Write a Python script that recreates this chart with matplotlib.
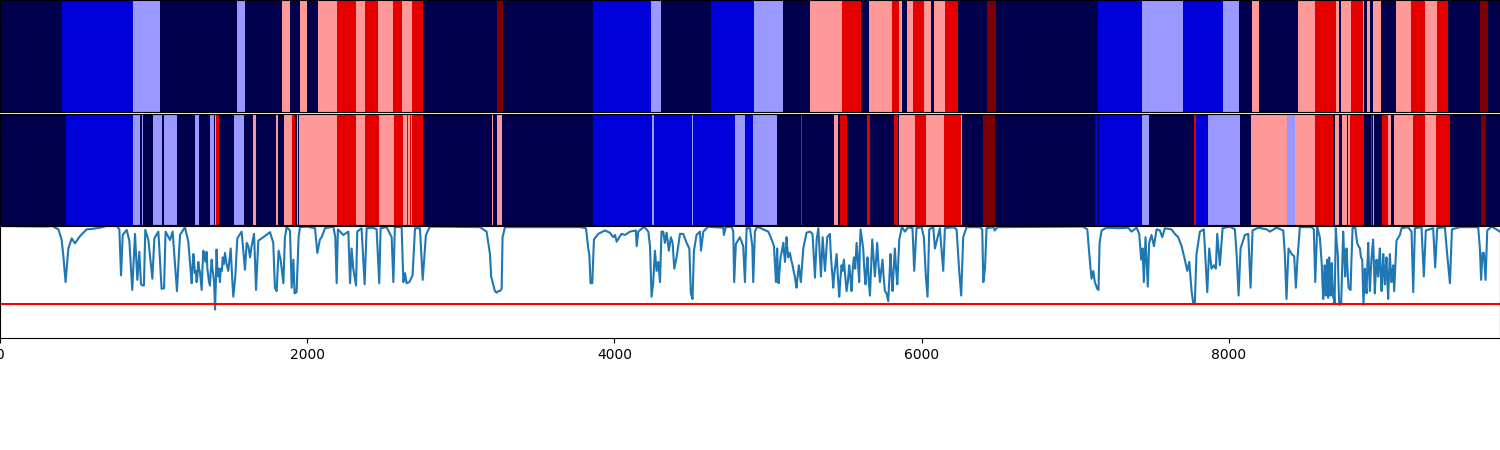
import numpy as np
import matplotlib
matplotlib.use("Agg")
import matplotlib.pyplot as plt

top_ends = [404,866,1042,1543,1595,1836,1888,1953,1999,2070,2194,2318,2376,2461,2559,2617,2682,2754,3235,3275,
            3861,4238,4303,4629,4909,5097,5273,5482,5605,5657,5807,5853,5872,5905,5944,6015,6061,6080,6152,6237,
            6425,6484,7148,7434,7701,7962,8066,8150,8196,8450,8561,8697,8717,8730,8795,8873,8880,8899,8919,8938,
            8990,9088,9186,9277,9355,9426,9635,9687,9766]
top_states = [0,1,2,0,2,0,3,0,3,0,3,4,3,4,3,4,3,4,0,5,
              0,1,2,0,1,2,0,3,4,0,3,4,3,0,3,4,3,0,3,4,
              0,5,0,1,2,1,2,0,3,0,3,4,3,0,3,4,3,0,3,0,
              3,0,3,4,3,4,0,5,0]

mid_ends = [430,866,911,924,931,996,1055,1068,1152,1269,1295,1367,1393,1400,1406,1426,1523,1588,1647,1667,
            1797,1810,1849,1901,1920,1933,1940,1946,2194,2318,2376,2467,2565,2624,2650,2656,2669,2676,2682,2754,
            3203,3210,3235,3268,3861,4245,4258,4505,4512,4785,4850,4902,5058,5215,5221,5429,5456,5468,5514,5644,
            5664,5820,5846,5853,5957,6028,6146,6256,6263,6399,6477,7128,7148,7155,7434,7480,7773,7786,7864,8072,
            8144,8378,8430,8561,8678,8691,8717,8736,8769,8776,8789,8880,8925,8932,8938,8945,8997,9036,9056,9075,
            9199,9277,9349,9440,9641,9674,9766]
mid_states = [0,1,2,0,2,0,2,0,2,0,2,0,2,0,3,4,0,2,0,3,
              0,3,0,3,4,0,3,0,3,4,3,4,3,4,3,4,3,4,3,4,
              0,3,0,3,0,1,2,1,2,1,2,1,2,0,4,0,3,0,4,0,
              4,0,4,0,3,4,3,4,3,0,5,0,1,0,1,2,0,4,1,2,
              0,3,2,3,4,0,3,0,3,0,3,4,0,4,0,3,0,4,3,0,
              3,4,3,4,0,5,0]

depth_x = [0,300,340,347,380,401,412,427,445,467,488,521,564,608,651,694,760,777,788,799,825,842,861,879,894,907,918,929,937,946,
           966,992,1005,1031,1052,1068,1078,1107,1124,1152,1172,1204,1226,1248,1259,1269,1280,1291,1302,1313,1324,1345,1356,1367,1378,1389,1400,1410,1421,1432,
           1450,1465,1486,1502,1519,1532,1545,1573,1595,1606,1617,1628,1638,1654,1667,1682,1714,1758,1779,1790,1801,1814,1827,1845,1855,1866,1888,1899,1910,1918,
           1931,1944,1953,1996,2051,2066,2083,2094,2116,2170,2183,2192,2200,2235,2268,2279,2289,2300,2318,2326,2354,2374,2387,2430,2452,2469,2478,2517,2550,2561,
           2571,2615,2626,2637,2647,2665,2686,2702,2734,2752,2773,2799,3125,3168,3190,3198,3207,3222,3233,3244,3255,3266,3272,3288,3776,3815,3830,3837,3845,3856,
           3867,3895,3939,3971,3993,4004,4015,4032,4047,4069,4102,4140,4145,4156,4193,4221,4232,4242,4253,4264,4275,4286,4297,4307,4318,4329,4340,4355,4368,4379,
           4390,4405,4427,4448,4470,4488,4498,4509,4518,4535,4557,4564,4579,4611,4644,4709,4713,4726,4763,4774,4780,4791,4817,4839,4850,4861,4883,4898,4904,4915,
           4930,4969,5002,5024,5039,5052,5060,5069,5082,5100,5111,5121,5132,5143,5160,5175,5186,5201,5214,5230,5251,5273,5290,5306,5317,5328,5345,5356,5371,5386,
           5403,5414,5425,5436,5447,5464,5479,5494,5512,5529,5544,5559,5577,5594,5603,5620,5635,5648,5664,5679,5696,5711,5729,5746,5761,5783,5798,5811,5826,5842,
           5855,5872,5892,5913,5941,5952,5967,6000,6015,6028,6039,6050,6076,6087,6119,6141,6152,6206,6228,6245,6258,6271,6293,6380,6395,6402,6413,6423,6467,6477,
           6493,6510,7052,7079,7092,7100,7107,7118,7128,7144,7152,7159,7172,7204,7291,7345,7367,7400,7417,7430,7439,7447,7458,7473,7482,7497,7513,7530,7552,7567,
           7584,7627,7649,7671,7693,7714,7730,7743,7758,7769,7779,7790,7812,7838,7860,7873,7888,7903,7916,7925,7942,7960,8007,8040,8051,8064,8077,8105,8127,8142,
           8155,8192,8246,8268,8311,8355,8365,8376,8389,8409,8426,8437,8448,8463,8539,8554,8563,8576,8593,8606,8615,8625,8632,8641,8647,8654,8663,8671,8680,8689,
           8697,8710,8719,8732,8745,8758,8767,8780,8793,8806,8823,8836,8854,8869,8877,8886,8897,8908,8919,8930,8940,8951,8962,8973,8984,8995,9006,9016,9027,9038,
           9049,9060,9071,9077,9092,9114,9125,9168,9190,9201,9212,9255,9270,9283,9331,9344,9357,9407,9422,9440,9453,9505,9624,9635,9643,9652,9661,9672,9683,9711,
           9743,9765]
depth_y = [1.0,.995,1.0,.995,.97,.88,.74,.50,.80,.89,.845,.91,.97,.975,.985,1.0,1.0,.97,.56,.92,.965,.87,.43,.93,.52,.77,.48,.47,.47,.965,
           .875,.53,.89,.95,.44,.445,.95,.875,.95,.42,.92,.99,.86,.49,.75,.58,.50,.68,.59,.43,.78,.77,.55,.47,.70,.56,.255,.79,.55,.50,
           .72,.76,.60,.80,.37,.55,.89,.95,.61,.85,.82,.72,.82,.93,.43,.87,.90,.945,.85,.45,.42,.78,.70,.49,.90,.99,.96,.45,.70,.40,
           .41,.90,.99,.995,.98,.76,.88,.90,.98,.995,.90,.49,.97,.92,.95,.49,.80,.62,.47,.95,.98,.48,.98,.985,.97,.49,.98,.99,.90,.50,
           .99,.99,.50,.58,.49,.50,.56,.98,.98,.52,.92,.995,.99,.95,.75,.55,.50,.42,.405,.42,.42,.44,.90,.99,.99,.98,.80,.74,.49,.49,
           .88,.93,.96,.94,.90,.92,.86,.90,.93,.92,.95,.96,.82,.95,.995,.95,.82,.37,.50,.78,.60,.68,.50,.95,.95,.85,.94,.78,.90,.85,
           .62,.72,.93,.93,.85,.80,.40,.35,.78,.92,.95,.78,.95,.995,.99,.985,.92,.99,.995,.95,.50,.84,.90,.82,.50,.98,.98,.82,.50,.95,
           .995,.97,.95,.88,.82,.50,.80,.49,.72,.85,.68,.90,.72,.76,.65,.55,.45,.65,.50,.80,.94,.95,.93,.54,.88,.98,.55,.90,.60,.90,
           .93,.65,.45,.62,.75,.37,.65,.70,.42,.65,.42,.72,.85,.50,.97,.80,.48,.72,.38,.88,.55,.85,.50,.70,.42,.33,.75,.42,.80,.48,
           .88,.99,.95,.99,.98,.60,.98,.99,.90,.55,.37,.97,.99,.80,.98,.60,.98,.99,.97,.60,.38,.90,.99,.99,.97,.50,.62,.98,.99,.96,
           .99,.99,.995,.97,.75,.62,.53,.60,.50,.44,.43,.85,.96,.985,.98,.985,.95,.985,.93,.70,.80,.50,.90,.46,.85,.92,.82,.97,.96,.90,
           .98,.97,.93,.90,.82,.70,.60,.68,.42,.31,.31,.75,.95,.97,.41,.80,.62,.65,.62,.93,.65,.98,.995,.97,.75,.38,.80,.92,.93,.45,
           .96,.985,.97,.95,.985,.96,.75,.35,.80,.75,.73,.45,.72,.99,.99,.97,.50,.99,.90,.65,.35,.65,.38,.70,.36,.72,.38,.67,.36,.31,
           .98,.75,.30,.31,.95,.55,.80,.45,.43,.98,.99,.85,.80,.70,.30,.62,.40,.85,.42,.72,.88,.40,.70,.55,.80,.42,.75,.48,.72,.35,
           .75,.50,.65,.42,.87,.92,.98,.99,.95,.41,.98,.99,.55,.96,.98,.63,.98,.99,.75,.49,.97,.99,.99,.80,.52,.76,.76,.52,.96,.995,
           .97,.95]

# further readings from the busiest stretches of the curve
dense_x = [1253,1264,1275,1285,1296,1307,1318,1330,1340,1350,1361,1372,1383,1394,1405,1415,1426,1437,1445,1457,1475,1494,1511,
           5056,5064,5075,5091,5105,5116,5126,5137,5151,5167,5180,5193,5207,5222,
           5408,5420,5430,5441,5455,5470,5486,5503,5520,5536,5551,5568,5585,5598,5612,5627,5641,5656,5671,5688,5703,5720,5737,5753,5772,5790,5804,5818,5834,5848,
           8610,8620,8628,8636,8644,8650,8658,8667,8675,8684,8693,8703,8714,8725,8738,8751,8762,8773,8786,8799,
           8845,8861,8873,8881,8891,8902,8913,8924,8935,8945,8956,8967,8978,8989,9000,9011,9021,9032,9043,9054,9065,9074,9085]
dense_y = [.62,.68,.60,.55,.62,.52,.62,.72,.68,.62,.50,.60,.62,.50,.48,.62,.62,.62,.60,.66,.66,.70,.55,
           .65,.62,.60,.78,.76,.78,.80,.75,.70,.60,.50,.55,.58,.65,
           .78,.55,.55,.68,.55,.50,.60,.55,.50,.55,.60,.62,.70,.80,.88,.62,.60,.52,.62,.70,.68,.65,.60,.55,.40,.52,.58,.60,.62,.66,
           .50,.50,.50,.55,.52,.55,.55,.52,.50,.40,.65,.85,.52,.30,.62,.75,.68,.62,.44,.70,
           .82,.72,.50,.45,.50,.62,.62,.58,.80,.65,.55,.62,.68,.60,.58,.60,.60,.52,.55,.62,.58,.52,.65]

threshold = 0.307
x_ticks = [0, 2000, 4000, 6000, 8000]
x_max = 9766

def expand(ends, states):
    lengths = np.diff([0] + list(ends))
    return np.repeat(states, lengths)[np.newaxis, :]

H = 450.0
def box(top, bottom):
    return [0, 1 - bottom / H, 1, (bottom - top) / H]

fig = plt.figure(figsize=(15, 4.5), dpi=100)
ax1 = fig.add_axes(box(0.0, 112.0))
ax2 = fig.add_axes(box(113.6, 225.0))
ax3 = fig.add_axes(box(226.0, 338.2))

for ax, ends, states in ((ax1, top_ends, top_states), (ax2, mid_ends, mid_states)):
    ax.imshow(expand(ends, states), cmap="seismic", vmin=0, vmax=5, aspect="auto",
              interpolation="nearest", extent=(0, x_max, 0, 1))
    ax.set_xticks([])
    ax.set_yticks([])

all_x = np.array(depth_x + dense_x)
all_y = np.array(depth_y + dense_y)
order = np.argsort(all_x)
ax3.plot(all_x[order], all_y[order], color="tab:blue", linewidth=1.5)
ax3.axhline(threshold, color="red", linewidth=1.5)
ax3.set_xlim(0, x_max)
ax3.set_ylim(0, 1)
ax3.set_yticks([])
ax3.set_xticks(x_ticks)

fig.savefig("out.png", dpi=100)
